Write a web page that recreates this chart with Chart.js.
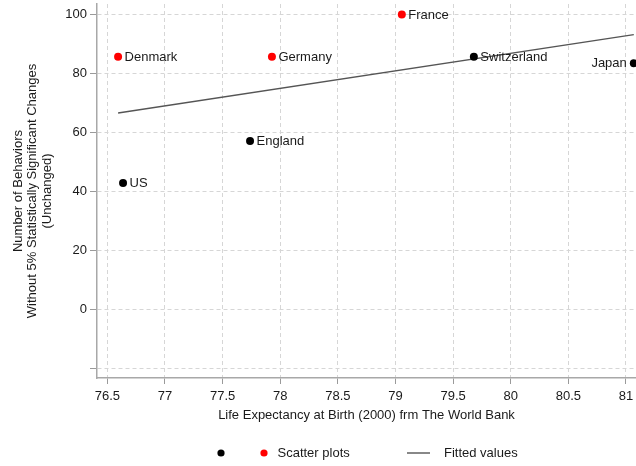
<!DOCTYPE html>
<html>
<head>
<meta charset="utf-8">
<script src="https://cdn.jsdelivr.net/npm/chart.js@4/dist/chart.umd.min.js"></script>
<style>
  html, body { margin: 0; padding: 0; background: #fff; }
  #wrap { width: 636px; height: 466px; }
</style>
</head>
<body>
<div id="wrap"><canvas id="chart" width="636" height="466"></canvas></div>
<script>
// countries drawn in black
const blackNames = ["US", "England", "Switzerland", "Japan"];
const blackX = [76.636, 77.738, 79.68, 81.068];
const blackY = [42.9, 57.1, 85.7, 83.5];
const blackLabelSide = ["right", "right", "right", "left"];

// countries drawn in red
const redNames = ["Denmark", "Germany", "France"];
const redX = [76.593, 77.928, 79.055];
const redY = [85.7, 85.7, 100];
const redLabelSide = ["right", "right", "right"];

// fitted values (end points of the fit line)
const fitX = [76.593, 81.068];
const fitY = [66.6, 93.2];

const xTicks = [76.5, 77, 77.5, 78, 78.5, 79, 79.5, 80, 80.5, 81];
const yTicks = [-20, 0, 20, 40, 60, 80, 100];
const yTickLabels = ["", "0", "20", "40", "60", "80", "100"];

const FONT = "'Liberation Sans', Arial, Helvetica, sans-serif";
const TEXT = "#1a1a1a";

function toPoints(xs, ys) {
  return xs.map((x, i) => ({ x, y: ys[i] }));
}

const pointLabels = {
  id: "pointLabels",
  afterDatasetsDraw(chart) {
    const ctx = chart.ctx;
    ctx.save();
    ctx.font = `13px ${FONT}`;
    ctx.fillStyle = TEXT;
    ctx.textBaseline = "middle";
    chart.data.datasets.forEach((ds, i) => {
      if (!ds.names) return;
      const meta = chart.getDatasetMeta(i);
      meta.data.forEach((el, j) => {
        const left = ds.labelSide[j] === "left";
        ctx.textAlign = left ? "right" : "left";
        ctx.fillText(ds.names[j], el.x + (left ? -7 : 6.5), el.y + 0.5);
      });
    });
    ctx.restore();
  },
};

const bottomLegend = {
  id: "bottomLegend",
  afterDraw(chart) {
    const ctx = chart.ctx;
    const [black, red, fit] = chart.data.datasets;
    const y = 453;
    ctx.save();
    ctx.fillStyle = black.backgroundColor;
    ctx.beginPath();
    ctx.arc(221, y, 3.6, 0, Math.PI * 2);
    ctx.fill();
    ctx.fillStyle = red.backgroundColor;
    ctx.beginPath();
    ctx.arc(264, y, 3.6, 0, Math.PI * 2);
    ctx.fill();
    ctx.strokeStyle = fit.borderColor;
    ctx.lineWidth = fit.borderWidth;
    ctx.beginPath();
    ctx.moveTo(407, y);
    ctx.lineTo(430, y);
    ctx.stroke();
    ctx.font = `13px ${FONT}`;
    ctx.fillStyle = TEXT;
    ctx.textBaseline = "middle";
    ctx.textAlign = "left";
    ctx.fillText(red.label, 277.5, y);
    ctx.fillText(fit.label, 444, y);
    ctx.restore();
  },
};

const gridOpts = {
  color: "#d6d6d6",
  lineWidth: 1,
  tickColor: "#9a9a9a",
  tickWidth: 1,
};

new Chart(document.getElementById("chart"), {
  type: "scatter",
  data: {
    datasets: [
      {
        label: "",
        data: toPoints(blackX, blackY),
        names: blackNames,
        labelSide: blackLabelSide,
        backgroundColor: "#000000",
        borderWidth: 0,
        pointRadius: 4,
      },
      {
        label: "Scatter plots",
        data: toPoints(redX, redY),
        names: redNames,
        labelSide: redLabelSide,
        backgroundColor: "#ff0000",
        borderWidth: 0,
        pointRadius: 4,
      },
      {
        label: "Fitted values",
        data: toPoints(fitX, fitY),
        showLine: true,
        borderColor: "#555555",
        backgroundColor: "#555555",
        borderWidth: 1.4,
        pointRadius: 0,
      },
    ],
  },
  options: {
    responsive: false,
    animation: false,
    devicePixelRatio: 1,
    layout: { autoPadding: false, padding: { top: 4, left: 0, right: 0, bottom: 0 } },
    plugins: {
      legend: { display: false },
      tooltip: { enabled: false },
    },
    scales: {
      x: {
        type: "linear",
        min: 76.41,
        max: 81.087,
        afterBuildTicks: (scale) => {
          scale.ticks = xTicks.map((v) => ({ value: v }));
        },
        afterFit: (scale) => {
          scale.height = 88;
          scale.paddingLeft = 0;
          scale.paddingRight = 0;
        },
        grid: { ...gridOpts, tickLength: 6 },
        border: { display: true, color: "#a8a8a8", width: 1.5, dash: [4, 3] },
        ticks: {
          color: TEXT,
          font: { family: FONT, size: 13 },
          padding: 5,
          maxRotation: 0,
          autoSkip: false,
          callback: (v) => String(v),
        },
        title: {
          display: true,
          text: "Life Expectancy at Birth (2000) frm The World Bank",
          color: TEXT,
          font: { family: FONT, size: 13 },
          padding: { top: 0, bottom: 42.5 },
        },
      },
      y: {
        type: "linear",
        min: -23.3,
        max: 103.6,
        afterBuildTicks: (scale) => {
          scale.ticks = yTicks.map((v) => ({ value: v }));
        },
        afterFit: (scale) => {
          scale.width = 97;
          scale.paddingTop = 0;
          scale.paddingBottom = 0;
        },
        grid: { ...gridOpts, tickLength: 7 },
        border: { display: true, color: "#a8a8a8", width: 1.5, dash: [4, 3] },
        ticks: {
          color: TEXT,
          font: { family: FONT, size: 13 },
          padding: 3,
          autoSkip: false,
          callback: (v) => yTickLabels[yTicks.indexOf(v)] ?? "",
        },
        title: {
          display: true,
          text: [
            "Number of Behaviors",
            "Without 5% Statistically Significant Changes",
            "(Unchanged)",
          ],
          color: TEXT,
          font: { family: FONT, size: 13, lineHeight: 1.12 },
          padding: { top: 10.7, bottom: 0 },
        },
      },
    },
  },
  plugins: [pointLabels, bottomLegend],
});
</script>
</body>
</html>
